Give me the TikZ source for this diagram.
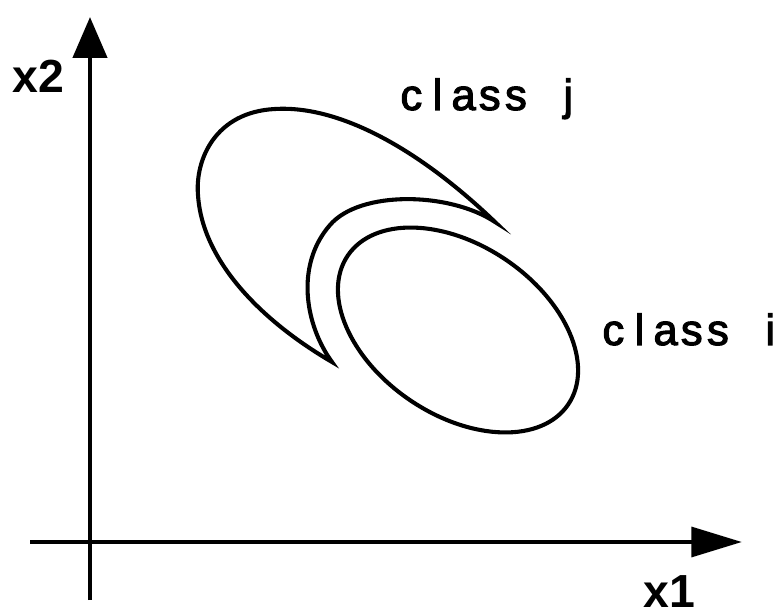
\documentclass[tikz,border=0pt]{standalone}
\usepackage{fontspec}
\usepackage{xcolor}
\usepackage{tikz}
\usetikzlibrary{arrows.meta}
\newfontfamily\clfont[FakeBold=2.5]{Liberation Sans}
\newfontfamily\claxisfont{Liberation Sans Bold}
\definecolor{clInk}{HTML}{000000}
% every letter of a class label sits in a cell of equal width
\newcommand\cellword[1]{\cellloop#1\relax}
\def\cellloop#1{\ifx\relax#1\else\makebox[0.6em]{#1}\expandafter\cellloop\fi}
\tikzset{
  cl diagram/.style={line join=miter},
  cl axis y/.style={draw=clInk, line width=3.4pt,
    -{Triangle[length=29pt, width=24pt]}},
  cl axis x/.style={draw=clInk, line width=3.4pt,
    -{Triangle[length=36pt, width=21pt]}},
  cl region/.style={draw=clInk, line width=2.9pt},
  cl label/.style={text=clInk, inner sep=0pt, anchor=base west,
    font=\clfont\fontsize{31}{37}\selectfont},
  cl axis label/.style={cl label, font=\claxisfont\fontsize{33}{40}\selectfont}
}

\begin{document}
\begin{tikzpicture}[cl diagram,x=0.025cm,y=-0.025cm]
\useasboundingbox (0,0) rectangle (776,616);
\coordinate (ybot) at (90,600);
\coordinate (ytop) at (90,17);
\coordinate (xleft) at (30,542);
\coordinate (xright) at (742,542);
\draw[cl axis y] (ybot) -- (ytop);
\draw[cl axis x] (xleft) -- (xright);
\node[cl axis label] (xtwo) at (12,93) {x2};
\node[cl axis label] (xone) at (643,607) {x1};
% class j
\draw[cl region] (495,222) .. controls (420,150) and (340,105) .. (275,109)
  .. controls (215,112) and (195,160) .. (198,195)
  .. controls (202,260) and (260,320) .. (332,362)
  .. controls (305,325) and (295,265) .. (330,225)
  .. controls (360,190) and (450,192) .. cycle;
% class i
\draw[cl region, rotate around={-34:(458,330)}] (458,330) ellipse [x radius=133, y radius=85];
\node[cl label] (classj) at (398,110) {\cellword{class\ j}};
\node[cl label] (classi) at (600,345) {\cellword{class\ i}};
\end{tikzpicture}
\end{document}
